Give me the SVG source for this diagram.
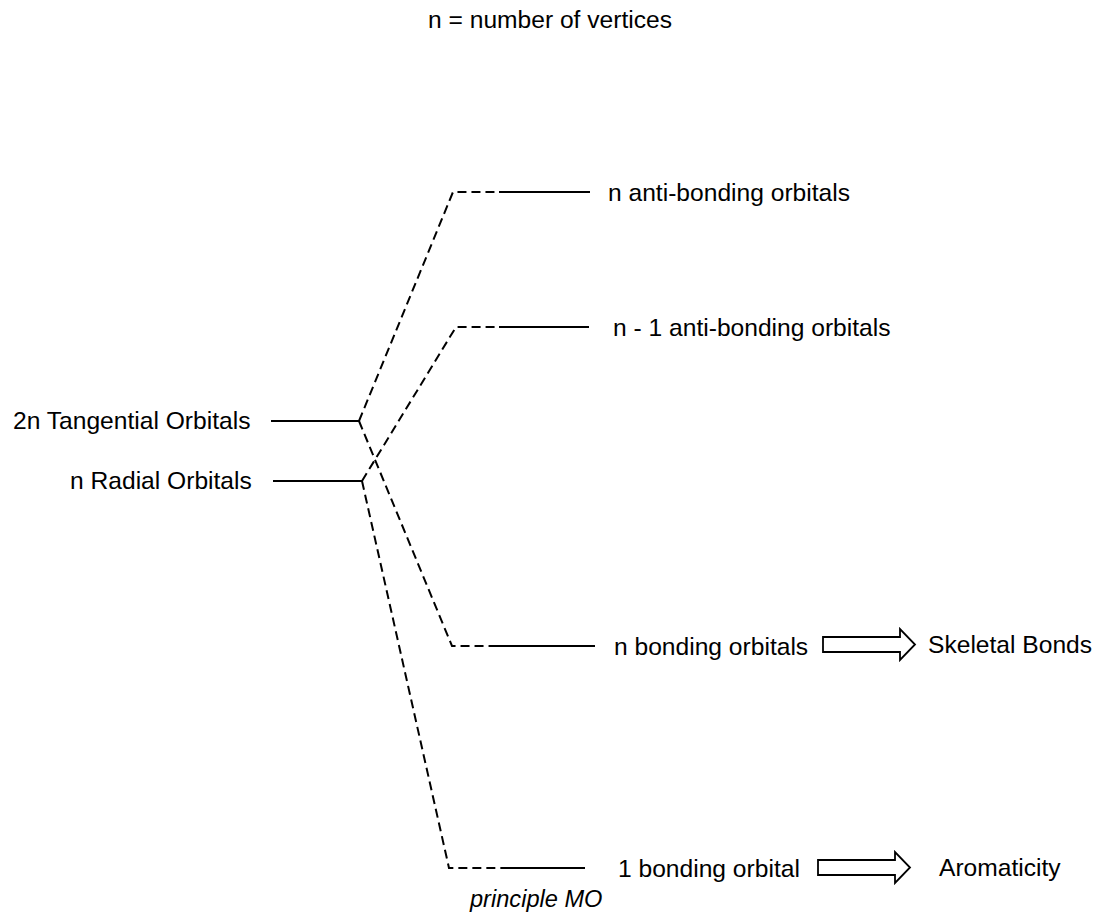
<svg xmlns="http://www.w3.org/2000/svg" width="1096" height="917" viewBox="0 0 1096 917">
<style>
text{font-family:"Liberation Sans",Arial,sans-serif;font-size:24.6px;fill:#000}
.it{font-style:italic;font-size:23.6px}
.dash{fill:none;stroke:#000;stroke-width:2;stroke-dasharray:9,5}
.solid{fill:none;stroke:#000;stroke-width:2}
.arrow{fill:#fff;stroke:#000;stroke-width:1.8}
</style>
<rect width="1096" height="917" fill="#fff"/>
<g id="title"><text x="428" y="28">n = number of vertices</text></g>
<g id="tangential"><text x="13" y="429">2n Tangential Orbitals</text><line class="solid" x1="271" y1="421" x2="359" y2="421"/></g>
<g id="radial"><text x="70" y="489">n Radial Orbitals</text><line class="solid" x1="273" y1="481" x2="362" y2="481"/></g>
<g id="antibonding"><line class="solid" x1="499" y1="192" x2="590" y2="192"/><text x="608" y="201">n anti-bonding orbitals</text></g>
<g id="antibonding2"><line class="solid" x1="499" y1="327" x2="589" y2="327"/><text x="613" y="336">n - 1 anti-bonding orbitals</text></g>
<g id="bonding"><line class="solid" x1="497" y1="646" x2="595" y2="646"/><text x="614" y="655">n bonding orbitals</text></g>
<g id="bonding1"><line class="solid" x1="503" y1="868" x2="585" y2="868"/><text x="618" y="877">1 bonding orbital</text><text class="it" x="470" y="907">principle MO</text></g>
<g id="skeletal"><text x="928" y="653">Skeletal Bonds</text></g>
<g id="aromaticity"><text x="939" y="876">Aromaticity</text></g>
<g id="connectors">
<path class="dash" d="M359,421 L453,192 L499,192"/>
<path class="dash" d="M359,421 L452,646 L497,646"/>
<path class="dash" d="M362,481 L456,327 L499,327"/>
<path class="dash" d="M362,481 L449,868 L503,868"/>
<path class="arrow" d="M823,637 L900,637 L900,629 L915,644.5 L900,660 L900,652 L823,652 Z"/>
<path class="arrow" d="M818,860 L895,860 L895,852 L910,867.5 L895,883 L895,875 L818,875 Z"/>
</g>
</svg>
